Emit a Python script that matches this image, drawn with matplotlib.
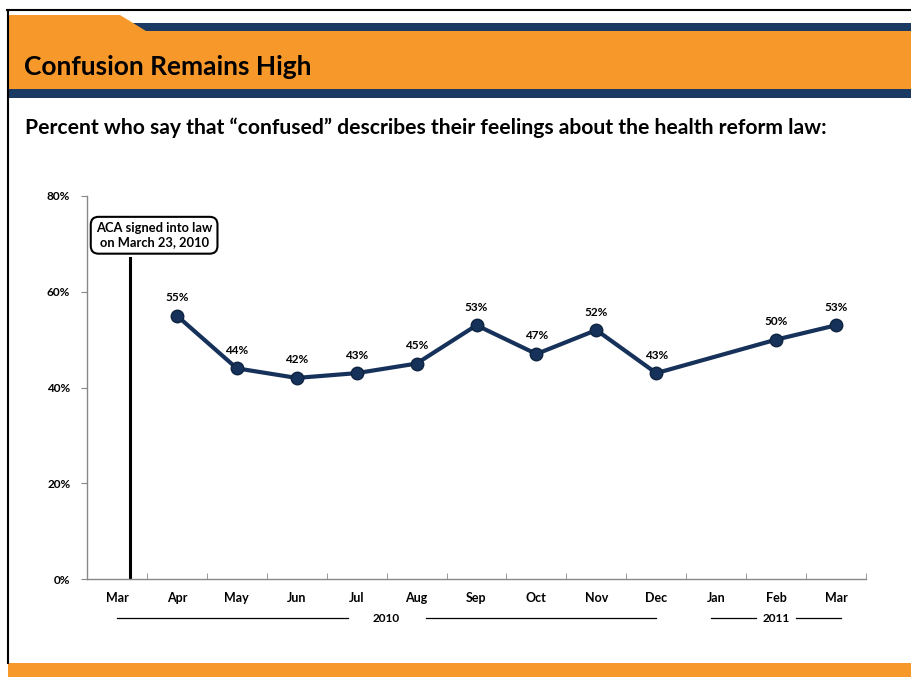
import matplotlib
matplotlib.use('Agg')
import matplotlib.pyplot as plt
from matplotlib.patches import Rectangle, Polygon
from matplotlib.transforms import blended_transform_factory
import numpy as np

plt.rcParams['font.family'] = ['Lato', 'DejaVu Sans']

months = ['Mar', 'Apr', 'May', 'Jun', 'Jul', 'Aug', 'Sep', 'Oct', 'Nov', 'Dec', 'Jan', 'Feb', 'Mar']
confused = [None, 55, 44, 42, 43, 45, 53, 47, 52, 43, None, 50, 53]
years = ['2010', '2011']
year_spans = [(0, 9), (10, 12)]
signed_label = 'ACA signed into law\non March 23, 2010'

W, H = 911, 677
ORANGE = '#F7982B'
NAVY = '#1B3A63'
LINE = '#16325A'

fig = plt.figure(figsize=(W / 100, H / 100), dpi=100)


def fx(x):
    return x / W


def fy(y):
    return 1 - y / H


def rect(x0, y0, x1, y1, color):
    fig.patches.append(Rectangle((fx(x0), fy(y1)), fx(x1) - fx(x0), fy(y0) - fy(y1),
                                 transform=fig.transFigure, color=color, lw=0, zorder=0))


# header band
rect(130, 23, W, 31, NAVY)
fig.patches.append(Polygon([(fx(8), fy(15)), (fx(120), fy(15)), (fx(146), fy(31)), (fx(W), fy(31)),
                            (fx(W), fy(89)), (fx(8), fy(89))],
                           closed=True, transform=fig.transFigure, color=ORANGE, lw=0, zorder=0))
rect(8, 89, W, 98, NAVY)
rect(8, 663, W, H, ORANGE)
# frame lines
fig.lines.append(plt.Line2D([fx(7), fx(W)], [fy(10), fy(10)], transform=fig.transFigure, color='black', lw=1.5))
fig.lines.append(plt.Line2D([fx(8), fx(8)], [fy(10), fy(663)], transform=fig.transFigure, color='black', lw=1.5))

fig.text(fx(24), fy(67), 'Confusion Remains High', fontsize=19, fontweight='bold', va='center', ha='left')
fig.text(fx(25), fy(128), 'Percent who say that \u201cconfused\u201d describes their feelings about the health reform law:',
         fontsize=15.2, fontweight='bold', va='center', ha='left')

ax = fig.add_axes([fx(87), fy(579), fx(866) - fx(87), fy(196) - fy(579)])
x = np.arange(len(months))
xs = [i for i, v in zip(x, confused) if v is not None]
ys = [v for v in confused if v is not None]
ax.plot(xs, ys, color=LINE, lw=3, marker='o', markersize=9, markerfacecolor=LINE,
        markeredgecolor='#0E2440', zorder=3)
for xi, yi in zip(xs, ys):
    ax.annotate(f'{yi}%', (xi, yi), xytext=(0, 9), textcoords='offset points',
                ha='center', va='bottom', fontsize=8.5, fontweight='bold')

ax.set_xlim(-0.5, len(months) - 0.5)
ax.set_ylim(0, 80)
ax.set_yticks([0, 20, 40, 60, 80])
ax.set_yticklabels([f'{v}%' for v in [0, 20, 40, 60, 80]], fontsize=8.5, fontweight='bold')
ax.set_xticks(x)
ax.set_xticklabels(months, fontsize=9, fontweight='bold')
ax.set_xticks(np.arange(-0.5, len(months)), minor=True)
ax.tick_params(axis='x', which='major', length=0, pad=9)
ax.tick_params(axis='x', which='minor', length=4, direction='in', color='#888888')
ax.tick_params(axis='y', length=4, direction='out', color='#888888', pad=8)
for s in ['top', 'right']:
    ax.spines[s].set_visible(False)
for s in ['left', 'bottom']:
    ax.spines[s].set_color('#888888')
    ax.spines[s].set_linewidth(1)

# ACA signing marker (March 23)
sign_x = 22 / 31 - 0.5
ax.plot([sign_x, sign_x], [0, 67], color='black', lw=2.2, zorder=2)
ax.text(0.62, 71.8, signed_label, ha='center', va='center', fontsize=9.3, fontweight='bold',
        linespacing=1.25,
        bbox=dict(boxstyle='round,pad=0.4,rounding_size=0.6', fc='white', ec='black', lw=1.5), zorder=4)

# year brackets
tr = blended_transform_factory(ax.transData, ax.transAxes)
yy = -0.102
for label, (a, b) in zip(years, year_spans):
    mid = (a + b) / 2
    long_span = b - a > 3
    half = 0.65 if long_span else 0.33
    ext = 0.0 if long_span else 0.08
    ax.plot([a - ext, mid - half], [yy, yy], transform=tr, color='black', lw=0.9, clip_on=False)
    ax.plot([mid + half, b + ext], [yy, yy], transform=tr, color='black', lw=0.9, clip_on=False)
    ax.text(mid, yy, label, transform=tr, ha='center', va='center', fontsize=8.5, fontweight='bold')

fig.savefig('out.png', dpi=100)
